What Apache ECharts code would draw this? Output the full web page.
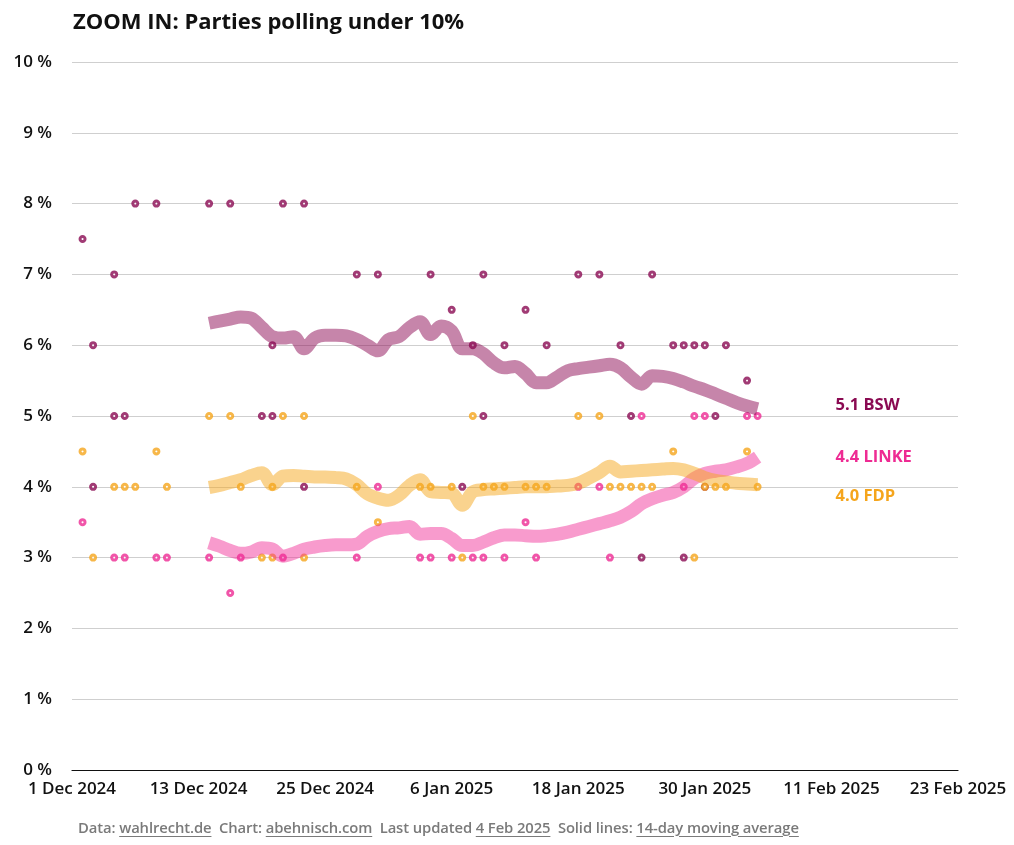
<!DOCTYPE html>
<html>
<head>
<meta charset="utf-8">
<script src="https://cdn.jsdelivr.net/npm/echarts@6/dist/echarts.min.js"></script>
<style>
html,body{margin:0;padding:0;background:#fff;}
#chart{width:1014px;height:845px;position:absolute;left:0;top:0;}
#footer{position:absolute;left:78px;top:817px;font-family:"Open Sans","Noto Sans",sans-serif;font-size:14.8px;font-weight:600;color:#7a7a7a;white-space:pre;letter-spacing:-0.1px;}
#footer u{text-decoration:underline;text-underline-offset:3px;}
</style>
</head>
<body>
<div id="chart"></div>
<div id="footer">Data: <u>wahlrecht.de</u>  Chart: <u>abehnisch.com</u>  Last updated <u>4 Feb 2025</u>  Solid lines: <u>14-day moving average</u></div>
<script>
// ---- Data ----
const startDate = '2024-12-01';
const xTickLabels = ['1 Dec 2024','13 Dec 2024','25 Dec 2024','6 Jan 2025','18 Jan 2025','30 Jan 2025','11 Feb 2025','23 Feb 2025'];
const yTickValues = [0,1,2,3,4,5,6,7,8,9,10];

const bswPolls = [
  ['2024-12-02',7.5],['2024-12-03',6],['2024-12-03',4],['2024-12-05',7],['2024-12-05',5],['2024-12-06',5],
  ['2024-12-07',8],['2024-12-09',8],['2024-12-14',8],['2024-12-16',8],['2024-12-19',5],['2024-12-20',5],
  ['2024-12-20',6],['2024-12-21',8],['2024-12-23',8],['2024-12-23',4],['2024-12-28',7],['2024-12-30',7],
  ['2025-01-04',7],['2025-01-06',6.5],['2025-01-07',4],['2025-01-08',6],['2025-01-09',7],['2025-01-09',5],
  ['2025-01-11',6],['2025-01-13',6.5],['2025-01-15',6],['2025-01-18',7],['2025-01-20',7],['2025-01-22',6],
  ['2025-01-23',5],['2025-01-24',3],['2025-01-25',7],['2025-01-27',6],['2025-01-28',6],['2025-01-28',3],
  ['2025-01-29',6],['2025-01-30',6],['2025-01-30',4],['2025-01-31',5],['2025-02-01',6],['2025-02-03',5.5]
];
const linkePolls = [
  ['2024-12-02',3.5],['2024-12-05',3],['2024-12-06',3],['2024-12-09',3],['2024-12-10',3],['2024-12-14',3],
  ['2024-12-16',2.5],['2024-12-17',3],['2024-12-21',3],['2024-12-28',3],['2024-12-30',4],['2025-01-03',3],
  ['2025-01-04',3],['2025-01-06',3],['2025-01-08',3],['2025-01-09',3],['2025-01-11',3],['2025-01-13',3.5],
  ['2025-01-14',3],['2025-01-18',4],['2025-01-20',4],['2025-01-21',3],['2025-01-24',5],['2025-01-28',4],
  ['2025-01-29',5],['2025-01-30',5],['2025-02-03',5],['2025-02-04',5]
];
const fdpPolls = [
  ['2024-12-02',4.5],['2024-12-03',3],['2024-12-05',4],['2024-12-06',4],['2024-12-07',4],['2024-12-09',4.5],
  ['2024-12-10',4],['2024-12-14',5],['2024-12-16',5],['2024-12-17',4],['2024-12-19',3],['2024-12-20',4],
  ['2024-12-20',3],['2024-12-21',5],['2024-12-23',5],['2024-12-23',3],['2024-12-28',4],['2024-12-30',3.5],
  ['2025-01-03',4],['2025-01-04',4],['2025-01-06',4],['2025-01-07',3],['2025-01-08',5],['2025-01-09',4],
  ['2025-01-10',4],['2025-01-11',4],['2025-01-13',4],['2025-01-14',4],['2025-01-15',4],['2025-01-18',5],
  ['2025-01-20',5],['2025-01-21',4],['2025-01-22',4],['2025-01-23',4],['2025-01-24',4],['2025-01-25',4],
  ['2025-01-27',4.5],['2025-01-29',3],['2025-01-30',4],['2025-01-31',4],['2025-02-01',4],['2025-02-03',4.5],
  ['2025-02-04',4]
];

// 14-day moving averages, one value per day starting at maStart
const maStart = '2024-12-14';
const bswMA = [6.31,6.34,6.37,6.40,6.38,6.25,6.12,6.10,6.12,5.95,6.10,6.14,6.14,6.13,6.08,6.00,5.92,6.08,6.12,6.25,
  6.33,6.15,6.27,6.20,5.95,5.95,5.88,5.75,5.68,5.70,5.60,5.47,5.47,5.55,5.64,5.67,5.69,5.71,5.73,5.68,
  5.55,5.45,5.57,5.56,5.53,5.48,5.42,5.37,5.31,5.25,5.19,5.14,5.10];
const linkeMA = [3.21,3.16,3.10,3.06,3.08,3.14,3.12,3.02,3.06,3.12,3.15,3.17,3.18,3.18,3.19,3.30,3.37,3.41,3.42,3.44,
  3.33,3.34,3.34,3.27,3.17,3.17,3.22,3.28,3.32,3.32,3.31,3.30,3.31,3.33,3.36,3.40,3.44,3.48,3.52,3.57,
  3.65,3.76,3.83,3.88,3.92,4.00,4.12,4.19,4.22,4.24,4.28,4.33,4.42];
const fdpMA = [3.99,4.02,4.06,4.10,4.16,4.20,4.03,4.15,4.16,4.15,4.14,4.14,4.13,4.11,4.03,3.90,3.84,3.81,3.88,4.02,
  4.10,3.93,3.92,3.91,3.74,3.93,3.96,3.97,3.98,3.99,4.00,4.00,4.00,4.01,4.02,4.05,4.12,4.20,4.29,4.21,
  4.22,4.23,4.24,4.25,4.26,4.24,4.19,4.13,4.09,4.07,4.05,4.04,4.03];

const parties = [
  {name:'BSW',   dot:'#8a0a52', line:'rgba(142,12,85,0.5)',   polls:bswPolls,   ma:bswMA,   labelOffset:[0,-4]},
  {name:'LINKE', dot:'#ee2b93', line:'rgba(240,45,150,0.48)', polls:linkePolls, ma:linkeMA, labelOffset:[0,0]},
  {name:'FDP',   dot:'#f5a51c', line:'rgba(246,168,30,0.5)',  polls:fdpPolls,   ma:fdpMA,   labelOffset:[0,12]}
];

// ---- Helpers ----
const DAY = 86400000;
const t0 = Date.parse(startDate + 'T00:00:00Z');
const dayIndex = s => Math.round((Date.parse(s + 'T00:00:00Z') - t0) / DAY);
const FONT = '"Open Sans", "Noto Sans", sans-serif';

const series = [];
parties.forEach(p => {
  series.push({
    name: p.name + ' polls', type: 'scatter', symbol: 'circle', symbolSize: 5, z: 2,
    itemStyle: {color: '#fff', borderColor: p.dot, borderWidth: 3},
    data: p.polls.map(d => [dayIndex(d[0]), d[1]]),
    silent: true
  });
});
parties.forEach(p => {
  const s0 = dayIndex(maStart);
  series.push({
    name: p.name, type: 'line', smooth: 0.35, showSymbol: false, symbol: 'none', z: 3,
    lineStyle: {color: p.line, width: 13, cap: 'butt', join: 'round'},
    data: p.ma.map((v, i) => [s0 + i, v]),
    endLabel: {
      show: true, distance: 78, offset: p.labelOffset,
      formatter: prm => prm.value[1].toFixed(1) + ' ' + p.name,
      color: p.dot, fontFamily: FONT, fontWeight: 700, fontSize: 16.5
    },
    silent: true
  });
});

const chart = echarts.init(document.getElementById('chart'), null, {renderer: 'canvas'});
chart.setOption({
  animation: false,
  backgroundColor: '#fff',
  title: {
    text: 'ZOOM IN: Parties polling under 10%', left: 68, top: 7,
    textStyle: {fontFamily: FONT, fontWeight: 700, fontSize: 22, color: '#111'}
  },
  grid: {left: 72, right: 56, top: 62, bottom: 75, containLabel: false},
  xAxis: {
    type: 'value', min: 0, max: 84, interval: 12,
    axisLine: {show: true, lineStyle: {color: '#111', width: 1.2}},
    axisTick: {show: false},
    splitLine: {show: false},
    axisLabel: {
      margin: 11, fontFamily: FONT, fontWeight: 600, fontSize: 17, color: '#111',
      formatter: v => xTickLabels[Math.round(v / 12)] || ''
    }
  },
  yAxis: {
    type: 'value', min: yTickValues[0], max: yTickValues[yTickValues.length - 1], interval: 1,
    axisLine: {show: false}, axisTick: {show: false},
    splitLine: {lineStyle: {color: '#cfcfcf', width: 1}},
    axisLabel: {
      margin: 20, fontFamily: FONT, fontWeight: 600, fontSize: 17, color: '#111',
      formatter: v => v + ' %'
    }
  },
  series: series
});
</script>
</body>
</html>
